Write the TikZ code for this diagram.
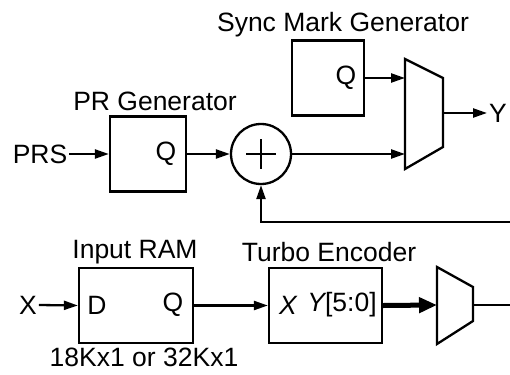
\documentclass[tikz,border=0pt]{standalone}
\usepackage{fontspec}
\setmainfont{Liberation Sans}
\usetikzlibrary{positioning,arrows.meta,calc}

\begin{document}
\begin{tikzpicture}[x=1pt, y=-1pt, line width=2.3pt,
  arr/.style={-{Triangle[length=14pt,width=9pt]}},
  bus/.style={line width=5pt, -{Triangle[length=18pt,width=15pt]}},
  blk/.style={draw, minimum height=75pt, inner sep=0pt},
  lab/.style={inner sep=1pt},
  every node/.style={font=\fontsize{26.5}{30}\selectfont}]
\useasboundingbox (0,0) rectangle (510,374);
% sync mark generator
\node[blk, minimum width=72pt] (SM) at (328,78) {};
\node[lab] (SMq) at (346,78) {Q};
\node[lab] at (343,25) {Sync Mark Generator};
% upper mux
\draw (405,59) -- (443,78) -- (443,147) -- (405,169) -- cycle;
\coordinate (M1a) at (405,78);
\coordinate (M1b) at (405,154);
\coordinate (M1o) at (443,113);
\node[lab] (Y) at (498,113) {Y};
% PR generator and adder
\node[blk, minimum width=76pt] (PR) at (148,154) {};
\node[lab] (PRq) at (166,154) {Q};
\node[lab] at (155,101) {PR Generator};
\node[lab] (PRS) at (40,154) {PRS};
\node[draw, circle, minimum size=60pt, inner sep=0pt] (A) at (261,154) {};
\draw (A.center) ++(-15,0) -- ++(30,0);
\draw (A.center) ++(0,-15) -- ++(0,30);
\coordinate (FB) at (510,222);
% connections, upper part
\draw[arr] (PRS.east) -- (PR.west);
\draw[arr] (PR.east) -- (A.west);
\draw[arr] (A.east) -- (M1b);
\draw[arr] (SM.east) -- (M1a);
\draw[arr] (M1o) -- (Y.west);
\draw[arr] (FB) -| (A.south);
% input RAM and turbo encoder
\node[blk, minimum width=114pt] (RAM) at (136,305.5) {};
\node[lab] at (97,305) {D};
\node[lab] at (173,305) {Q};
\node[lab] at (135,252) {Input RAM};
\node[anchor=base, inner sep=0pt] at (144,366) {18Kx1 or 32Kx1};
\node[lab] (X) at (28,305) {X};
\node[blk, minimum width=113pt] (TE) at (325.5,305.5) {};
\node[lab] at (288,305) {\itshape X};
\node[lab] at (342,305) {\itshape Y\upshape[5:0]};
\node[lab] at (329,252) {Turbo Encoder};
% lower mux
\draw (437,267) -- (473,287) -- (473,321) -- (437,344) -- cycle;
\coordinate (M2a) at (437,305);
\coordinate (M2o) at (473,305);
\coordinate (OUT) at (510,305);
% connections, lower part
\draw[arr] (X.east) -- (RAM.west);
\draw[arr] (RAM.east) -- (TE.west);
\draw[bus] (TE.east) -- (M2a);
\draw (M2o) -- (OUT);
\end{tikzpicture}
\end{document}
